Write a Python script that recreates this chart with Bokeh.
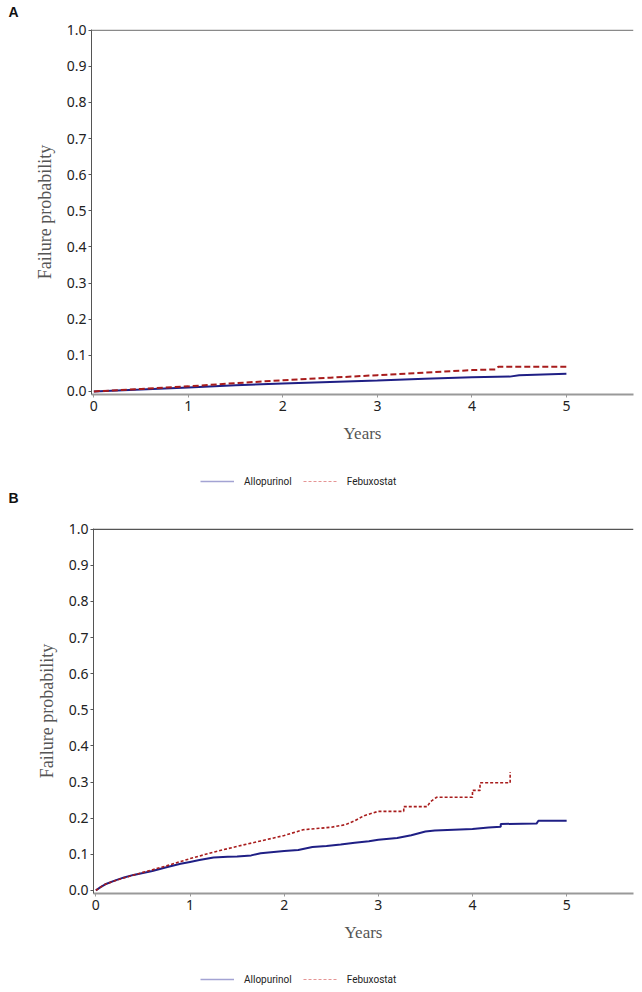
from bokeh.plotting import figure
from bokeh.layouts import column
from bokeh.models import (Range1d, FixedTicker, Legend, LegendItem, Span, Label,
                          NumeralTickFormatter)
from bokeh.embed import file_html
from bokeh.resources import INLINE

# ---------------- data ----------------
y_ticks = [0.0, 0.1, 0.2, 0.3, 0.4, 0.5, 0.6, 0.7, 0.8, 0.9, 1.0]
x_ticks = [0, 1, 2, 3, 4, 5]
series_names = ["Allopurinol", "Febuxostat"]

# Panel A
a_allo_t = [0, 0.5, 1.0, 1.5, 2.0, 2.5, 3.0, 3.5, 4.0, 4.4, 4.5, 5.0]
a_allo_p = [0, 0.005, 0.011, 0.017, 0.022, 0.026, 0.030, 0.035, 0.039, 0.041, 0.045, 0.049]
a_febu_t = [0, 0.5, 1.0, 1.5, 2.0, 2.5, 3.0, 3.5, 4.0, 4.25, 4.28, 5.0]
a_febu_p = [0, 0.007, 0.014, 0.023, 0.031, 0.038, 0.045, 0.052, 0.059, 0.061, 0.068, 0.068]

# Panel B
b_allo_t = [0, 0.05, 0.1, 0.2, 0.3, 0.4, 0.5, 0.6, 0.75, 0.9, 1.0, 1.1, 1.25, 1.4, 1.5,
            1.65, 1.75, 2.0, 2.15, 2.3, 2.45, 2.6, 2.75, 2.9, 3.0, 3.2, 3.35, 3.5, 3.6,
            4.0, 4.17, 4.3, 4.3, 4.68, 4.7, 5.0]
b_allo_p = [0, 0.009, 0.017, 0.027, 0.036, 0.043, 0.048, 0.054, 0.064, 0.074, 0.079, 0.084,
            0.091, 0.093, 0.094, 0.097, 0.103, 0.109, 0.112, 0.120, 0.123, 0.127, 0.132,
            0.136, 0.140, 0.145, 0.153, 0.163, 0.166, 0.170, 0.174, 0.176, 0.184, 0.185,
            0.193, 0.193]
b_febu_t = [0, 0.05, 0.1, 0.25, 0.5, 0.75, 1.0, 1.25, 1.5, 1.75, 2.0, 2.2, 2.5, 2.65,
            2.75, 2.85, 3.0, 3.27, 3.27, 3.52, 3.55, 3.62, 4.0, 4.0, 4.08, 4.08, 4.4, 4.4]
b_febu_p = [0, 0.009, 0.017, 0.031, 0.050, 0.068, 0.088, 0.106, 0.122, 0.137, 0.152,
            0.168, 0.175, 0.182, 0.193, 0.207, 0.219, 0.219, 0.232, 0.232, 0.245, 0.258,
            0.258, 0.277, 0.277, 0.298, 0.298, 0.328]

TICK_FONT = "Noto Sans"
LABEL_FONT = "Liberation Serif"
FIG_W = 640
NAN = float("nan")


def strip(height):
    s = figure(width=FIG_W, height=height, output_backend="svg", toolbar_location=None,
               title=None, x_axis_type=None, y_axis_type=None, min_border=0,
               x_range=Range1d(0, FIG_W), y_range=Range1d(0, height))
    s.frame_align = False
    s.outline_line_color = None
    s.background_fill_color = "white"
    return s


def add_letter(s, letter, x, y):
    s.add_layout(Label(x=x, y=y, x_units="screen", y_units="screen", text=letter,
                       text_font="Liberation Sans", text_font_style="bold",
                       text_font_size="14px", text_color="#111111",
                       text_align="center", text_baseline="middle"))


def add_legend(s, x, y):
    # key-only renderers (one undrawn point so the legend can style its keys)
    r1 = s.line([NAN], [NAN], line_color="#a3a3d3", line_width=1.5)
    r2 = s.line([NAN], [NAN], line_color="#e59494", line_width=1.2, line_dash="3 2")
    leg = Legend(items=[LegendItem(label=series_names[0], renderers=[r1]),
                        LegendItem(label=series_names[1], renderers=[r2])],
                 orientation="horizontal", location=(x, y),
                 glyph_width=34, glyph_height=12, label_standoff=10, spacing=11,
                 padding=0, margin=0, border_line_color=None,
                 background_fill_alpha=0, label_text_font="Roboto",
                 label_text_font_size="10px", label_text_color="#222222",
                 label_height=12)
    s.add_layout(leg)


def make_panel(allo_t, allo_p, febu_t, febu_p, height, left, bottom, dash, dash_w,
               top_color):
    p = figure(width=FIG_W, height=height, output_backend="svg", toolbar_location=None,
               title=None, min_border_left=left, min_border_right=FIG_W - 633,
               min_border_top=10, min_border_bottom=bottom,
               x_range=Range1d(-0.025, 5.71), y_range=Range1d(-0.0085, 1.002))
    p.frame_align = False
    p.grid.visible = False
    p.outline_line_color = None
    p.background_fill_color = "white"

    p.xaxis.ticker = FixedTicker(ticks=x_ticks)
    p.yaxis.ticker = FixedTicker(ticks=y_ticks)
    p.yaxis.formatter = NumeralTickFormatter(format="0.0")
    for ax in (p.xaxis[0], p.yaxis[0]):
        ax.major_label_text_font = TICK_FONT
        ax.major_label_text_font_size = "14px"
        ax.major_label_text_color = "#222222"
        ax.minor_tick_line_color = None
        ax.major_tick_in = 0
        ax.major_tick_out = 3
        ax.axis_label_text_font = LABEL_FONT
        ax.axis_label_text_font_style = "normal"
        ax.axis_label_text_color = "#555555"
    p.xaxis.axis_label_text_font_size = "17px"
    p.yaxis.axis_label_text_font_size = "18px"
    p.xaxis.axis_label = "Years"
    p.yaxis.axis_label = "Failure probability"
    p.xaxis.axis_line_color = "#999999"
    p.xaxis.axis_line_width = 2
    p.xaxis.major_tick_line_color = "#999999"
    p.xaxis.major_label_standoff = 3
    p.xaxis.axis_label_standoff = 10
    p.yaxis.axis_line_color = "#555555"
    p.yaxis.major_tick_line_color = "#555555"
    p.yaxis.major_label_standoff = 2
    p.yaxis.axis_label_standoff = 9

    p.add_layout(Span(location=1.0, dimension="width", line_color=top_color,
                      line_width=1.5))

    p.line(allo_t, allo_p, line_color="#1f1f85", line_width=2)
    p.line(febu_t, febu_p, line_color="#a81c1c", line_width=dash_w, line_dash=dash)
    return p


top_strip = strip(19)
add_letter(top_strip, "A", 13, 8)

pA = make_panel(a_allo_t, a_allo_p, a_febu_t, a_febu_p, height=435, left=91,
                bottom=60, dash="6 3", dash_w=2, top_color="#8a8a8a")

mid_strip = strip(64)
add_legend(mid_strip, 200, 31)
add_letter(mid_strip, "B", 13, 21)

pB = make_panel(b_allo_t, b_allo_p, b_febu_t, b_febu_p, height=434, left=93,
                bottom=59, dash="3 2", dash_w=1.6, top_color="#555555")

bot_strip = strip(38)
add_legend(bot_strip, 200, 5)

layout = column(top_strip, pA, mid_strip, pB, bot_strip)
open("out.html", "w").write(file_html(layout, INLINE))
